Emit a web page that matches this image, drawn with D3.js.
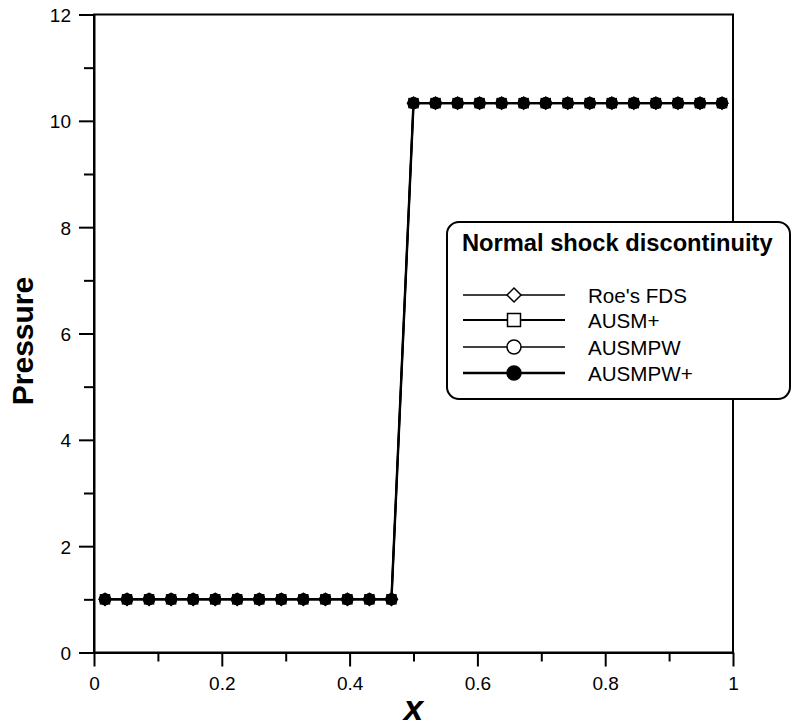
<!DOCTYPE html>
<html>
<head>
<meta charset="utf-8">
<script src="https://cdn.jsdelivr.net/npm/d3@7"></script>
<style>
  body { margin: 0; background: #fff; }
  svg { font-family: Arial, "Liberation Sans", sans-serif; }
</style>
</head>
<body>
<div id="chart"></div>
<script>
// cell centres of a 29-cell grid on [0,1]
var xs = [0.0172, 0.0517, 0.0862, 0.1207, 0.1552, 0.1897, 0.2241, 0.2586, 0.2931, 0.3276,
          0.3621, 0.3966, 0.4310, 0.4655, 0.5000, 0.5345, 0.5690, 0.6034, 0.6379, 0.6724,
          0.7069, 0.7414, 0.7759, 0.8103, 0.8448, 0.8793, 0.9138, 0.9483, 0.9828];
var pRoe     = [1,1,1,1,1,1,1,1,1,1,1,1,1,1,10.333,10.333,10.333,10.333,10.333,10.333,10.333,10.333,10.333,10.333,10.333,10.333,10.333,10.333,10.333];
var pAusm    = [1,1,1,1,1,1,1,1,1,1,1,1,1,1,10.333,10.333,10.333,10.333,10.333,10.333,10.333,10.333,10.333,10.333,10.333,10.333,10.333,10.333,10.333];
var pAusmpw  = [1,1,1,1,1,1,1,1,1,1,1,1,1,1,10.333,10.333,10.333,10.333,10.333,10.333,10.333,10.333,10.333,10.333,10.333,10.333,10.333,10.333,10.333];
var pAusmpwP = [1,1,1,1,1,1,1,1,1,1,1,1,1,1,10.333,10.333,10.333,10.333,10.333,10.333,10.333,10.333,10.333,10.333,10.333,10.333,10.333,10.333,10.333];

var seriesNames = ["Roe's FDS", "AUSM+", "AUSMPW", "AUSMPW+"];
var xTicks = [0, 0.2, 0.4, 0.6, 0.8, 1];
var xMinor = [0.1, 0.3, 0.5, 0.7, 0.9];
var yTicks = [0, 2, 4, 6, 8, 10, 12];
var yMinor = [1, 3, 5, 7, 9, 11];

var series = [
  {name: seriesNames[0], vals: pRoe,     sym: "diamond", fill: "#fff", lw: 1.3},
  {name: seriesNames[1], vals: pAusm,    sym: "square",  fill: "#fff", lw: 2},
  {name: seriesNames[2], vals: pAusmpw,  sym: "circle",  fill: "#fff", lw: 1.7},
  {name: seriesNames[3], vals: pAusmpwP, sym: "circle",  fill: "#000", lw: 2.4}
];

var W = 793, H = 728;
var margin = {top: 14.5, right: 60, bottom: 75.5, left: 94};

var svg = d3.select("#chart").append("svg")
    .attr("width", W)
    .attr("height", H);

var x = d3.scaleLinear().domain([0, 1]).range([margin.left, W - margin.right]);
var y = d3.scaleLinear().domain([0, 12]).range([H - margin.bottom, margin.top]);

// marker drawing
function marker(g, sym, fill, s) {
  if (sym == "diamond") {
    g.append("path").attr("d", "M0," + (-s) + "L" + s + ",0L0," + s + "L" + (-s) + ",0Z")
      .attr("fill", fill).attr("stroke", "#000").attr("stroke-width", 1.5);
  } else if (sym == "square") {
    g.append("rect").attr("x", -s).attr("y", -s).attr("width", 2 * s).attr("height", 2 * s)
      .attr("fill", fill).attr("stroke", "#000").attr("stroke-width", 1.5);
  } else {
    g.append("circle").attr("r", s)
      .attr("fill", fill).attr("stroke", "#000").attr("stroke-width", 1.5);
  }
}

// axes
var fontTick = "19px";
var axBottom = svg.append("g")
    .attr("transform", "translate(0," + y(0) + ")")
    .call(d3.axisBottom(x).tickValues(xTicks).tickSize(14).tickSizeOuter(0)
          .tickFormat(d => d3.format("")(d)));
svg.append("g")
    .attr("transform", "translate(0," + y(0) + ")")
    .call(d3.axisBottom(x).tickValues(xMinor).tickSize(9).tickSizeOuter(0).tickFormat(""))
    .select(".domain").remove();

var axLeft = svg.append("g")
    .attr("transform", "translate(" + x(0) + ",0)")
    .call(d3.axisLeft(y).tickValues(yTicks).tickSize(15).tickSizeOuter(0));
svg.append("g")
    .attr("transform", "translate(" + x(0) + ",0)")
    .call(d3.axisLeft(y).tickValues(yMinor).tickSize(10).tickSizeOuter(0).tickFormat(""))
    .select(".domain").remove();

svg.selectAll(".tick line").attr("stroke", "#000").attr("stroke-width", 2);
svg.selectAll(".domain").attr("stroke", "#000").attr("stroke-width", 2);
svg.selectAll(".tick text").attr("fill", "#000").style("font-size", fontTick).style("font-family", "Arial, 'Liberation Sans', sans-serif");
axBottom.selectAll(".tick text").attr("y", 24).attr("dy", "0.71em");
axLeft.selectAll(".tick text").attr("x", -23).attr("dy", "0.36em");

// frame
svg.append("rect")
    .attr("x", x(0)).attr("y", y(12))
    .attr("width", x(1) - x(0)).attr("height", y(0) - y(12))
    .attr("fill", "none").attr("stroke", "#000").attr("stroke-width", 2);

// data
var line = d3.line().x((d, i) => x(xs[i])).y(d => y(d));
series.forEach(function(s) {
  svg.append("path")
    .datum(s.vals)
    .attr("d", line)
    .attr("fill", "none")
    .attr("stroke", "#000")
    .attr("stroke-width", s.lw);
});
series.forEach(function(s) {
  s.vals.forEach(function(v, i) {
    var g = svg.append("g").attr("transform", "translate(" + x(xs[i]) + "," + y(v) + ")");
    marker(g, s.sym, s.fill, s.sym == "square" ? 4.5 : (s.sym == "diamond" ? 6 : 5.3));
  });
});

// axis titles
svg.append("text")
    .attr("x", (x(0) + x(1)) / 2).attr("y", 720)
    .attr("text-anchor", "middle")
    .style("font-size", "35px").style("font-weight", "bold").style("font-style", "italic")
    .text("x");
svg.append("text")
    .attr("transform", "translate(33,341) rotate(-90)")
    .attr("text-anchor", "middle")
    .style("font-size", "30px").style("font-weight", "bold")
    .text("Pressure");

// legend
var leg = svg.append("g");
leg.append("rect")
    .attr("x", 447).attr("y", 222).attr("width", 343).attr("height", 177)
    .attr("rx", 12).attr("ry", 12)
    .attr("fill", "#fff").attr("stroke", "#000").attr("stroke-width", 2);
leg.append("text")
    .attr("x", 462).attr("y", 251)
    .style("font-size", "23.7px").style("font-weight", "bold")
    .text("Normal shock discontinuity");
var rowY = [295, 320, 347, 373];
series.forEach(function(s, i) {
  leg.append("line")
    .attr("x1", 463).attr("x2", 565).attr("y1", rowY[i]).attr("y2", rowY[i])
    .attr("stroke", "#000").attr("stroke-width", s.lw);
  var g = leg.append("g").attr("transform", "translate(514," + rowY[i] + ")");
  marker(g, s.sym, s.fill, s.sym == "square" ? 6.5 : 7);
  leg.append("text")
    .attr("x", 588).attr("y", rowY[i] + 7.5)
    .style("font-size", "20.6px")
    .text(s.name);
});
</script>
</body>
</html>
